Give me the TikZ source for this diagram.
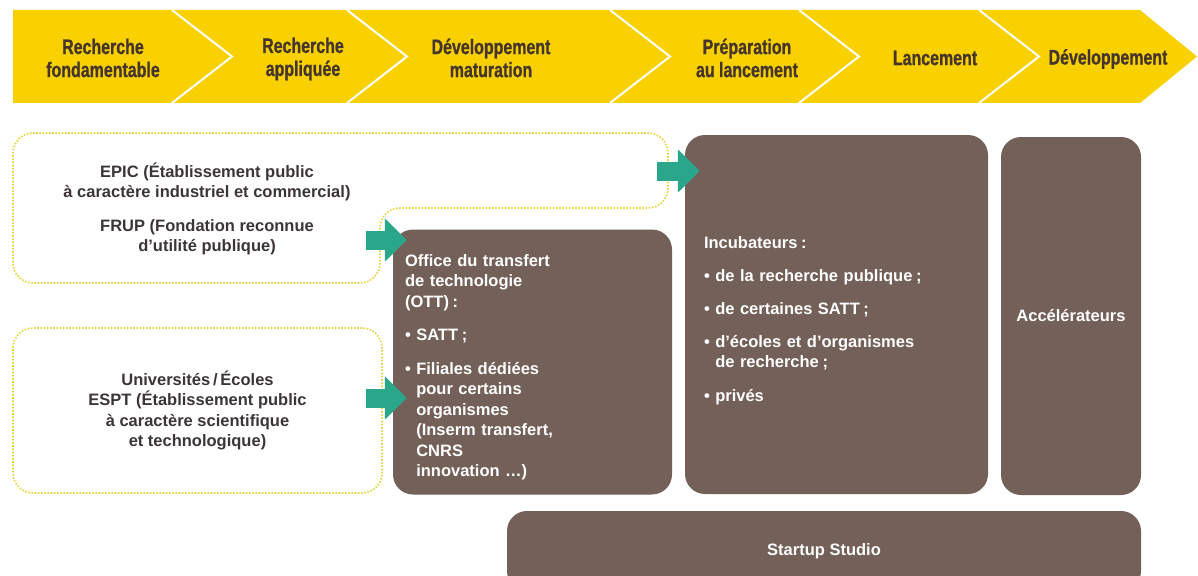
\documentclass[tikz,border=0pt]{standalone}
\usepackage{fontspec}
\setmainfont{Liberation Sans}
\newfontfamily\bandfont{Liberation Sans Bold}[FakeStretch=0.76,FakeBold=0.8]
\usetikzlibrary{arrows.meta,positioning}

\definecolor{bandyellow}{HTML}{F9D100}
\definecolor{bandtext}{HTML}{45352A}
\definecolor{boxbrown}{HTML}{736058}
\definecolor{darktext}{HTML}{3B3536}
\definecolor{dotyellow}{HTML}{E6D33A}
\definecolor{arrowteal}{HTML}{2AA68A}

\newcommand{\tsp}{\hspace{0.22em}}

\tikzset{
  stage/.style={font=\bandfont\fontsize{21}{23}\selectfont, text=bandtext, align=center},
  brownbox/.style={fill=boxbrown, rounded corners=20pt, text=white, font=\bfseries\fontsize{16.5}{20.5}\selectfont},
  sourcetext/.style={text=darktext, align=center, font=\bfseries\fontsize{16.5}{20.5}\selectfont},
  yellowdots/.style={draw=dotyellow, line width=1.6pt, dash pattern=on 1.6pt off 1.6pt, rounded corners=20pt},
  tealarrow/.style={arrowteal, line width=19pt, -{Triangle[length=22pt,width=42pt]}},
}

\begin{document}
\begin{tikzpicture}[x=1pt,y=-1pt]
    \useasboundingbox (0,0) rectangle (1198,575);

    % stages band
    \fill[bandyellow] (13,10) -- (1140,10) -- (1197,56.5) -- (1140,103) -- (13,103) -- cycle;
    \foreach \x in {172,347,610,799,979}
        \draw[white, line width=2pt] (\x,10) -- (\x+60,56.5) -- (\x,103);
    \node[stage] (s1) at (103,58) {Recherche\\fondamentable};
    \node[stage] (s2) at (303,59) {Recherche\\appliquée};
    \node[stage] (s3) at (491,58) {Développement\\maturation};
    \node[stage] (s4) at (747,58) {Préparation\\au lancement};
    \node[stage] (s5) at (935,58) {Lancement};
    \node[stage] (s6) at (1108,59) {Développement};

    % sources
    \draw[yellowdots] (13,133) -- (668,133) -- (668,208) -- (380,208) -- (380,283) -- (13,283) -- cycle;
    \node[sourcetext] (epic) at (207,209) {EPIC (Établissement public\\
        à caractère industriel et commercial)\\[13pt]
        FRUP (Fondation reconnue\\ d’utilité publique)};
    \node[yellowdots, sourcetext, minimum width=369pt, minimum height=165pt] (univ) at (197.5,410.5)
        {Universités\,/\,Écoles\\ ESPT (Établissement public\\ à caractère scientifique\\ et technologique)};

    % structures
    \node[brownbox, minimum width=279pt, minimum height=265pt, text width=255pt, inner xsep=12pt, align=left] (ott) at (532.5,362)
        {\rule{0pt}{22pt}Office du transfert\\ de technologie\\ (OTT)\tsp:\\[13pt]
         •~SATT\tsp;\\[13pt]
         •~Filiales dédiées\\ \phantom{•~}pour certains\\ \phantom{•~}organismes\\
         \phantom{•~}(Inserm transfert,\\ \phantom{•~}CNRS\\ \phantom{•~}innovation …)};
    \node[brownbox, minimum width=303pt, minimum height=359pt, text width=265pt, inner xsep=19pt, align=left] (incub) at (836.5,314.5)
        {\rule{0pt}{24pt}Incubateurs\tsp:\\[12pt]
         •~de la recherche publique\tsp;\\[13pt]
         •~de certaines SATT\tsp;\\[12pt]
         •~d’écoles et d’organismes\\ \phantom{•~}de recherche\tsp;\\[13pt]
         •~privés};
    \node[brownbox, minimum width=140pt, minimum height=358pt] (accel) at (1071,316) {Accélérateurs};
    \node[brownbox, minimum width=634pt, minimum height=80pt] (studio) at (824,551) {Startup Studio};

    % links
    \coordinate (e1) at (657,171);
    \coordinate (e2) at (366,240);
    \coordinate (e3) at (366,398);
    \draw[tealarrow] (e1) -- ([xshift=15pt]e1 -| incub.west);
    \draw[tealarrow] (e2) -- ([xshift=14pt]e2 -| ott.west);
    \draw[tealarrow] (e3) -- ([xshift=14pt]e3 -| ott.west);
\end{tikzpicture}
\end{document}
